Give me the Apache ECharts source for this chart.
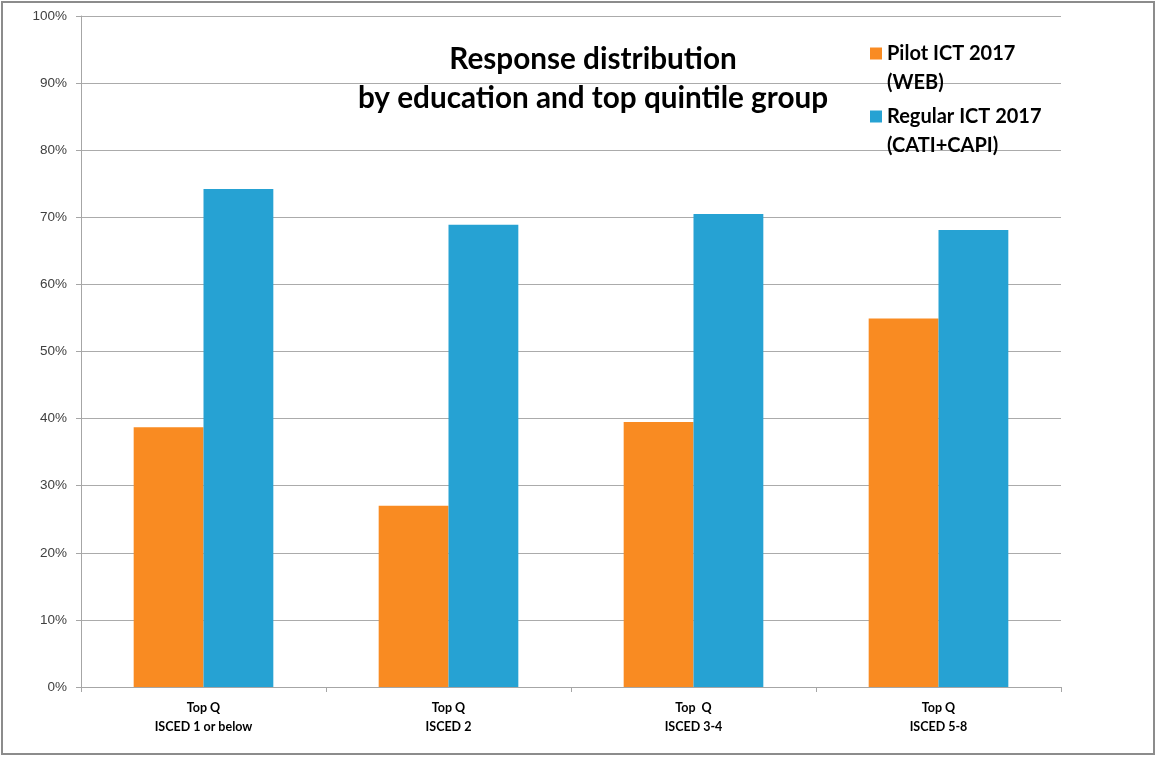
<!DOCTYPE html>
<html>
<head>
<meta charset="utf-8">
<title>Response distribution by education and top quintile group</title>
<script src="https://cdn.jsdelivr.net/npm/echarts@6/dist/echarts.min.js"></script>
<style>
  html, body { margin: 0; padding: 0; background: #ffffff; }
  #frame {
    position: absolute; left: 1px; top: 1px;
    width: 1154px; height: 754px;
    border: 2px solid #8c8c8c; box-sizing: border-box;
  }
  #chart { position: absolute; left: 0; top: 0; width: 1158px; height: 758px; }
</style>
</head>
<body>
<div id="chart"></div>
<div id="frame"></div>
<script>
// Education groups (top income quintile)
const categories = [
  'Top Q\nISCED 1 or below',
  'Top Q\nISCED 2',
  'Top  Q\nISCED 3-4',
  'Top Q\nISCED 5-8'
];
// Share of responses, percent
const pilotWeb = [38.7, 27.0, 39.5, 54.9];
const regularCatiCapi = [74.2, 68.9, 70.5, 68.1];
const seriesNames = ['Pilot ICT 2017\n(WEB)', 'Regular ICT 2017\n(CATI+CAPI)'];
const yTicks = { min: 0, max: 100, interval: 10 };

const chart = echarts.init(document.getElementById('chart'), null, { renderer: 'canvas' });

// Two-line legend labels; a leading empty line keeps the swatch beside the first line
const legendText = {
  fontFamily: 'Lato, "Open Sans", sans-serif',
  fontWeight: 'bold',
  fontSize: 20,
  color: '#000',
  lineHeight: 29
};
const legendBase = {
  left: 870, padding: 0, itemWidth: 12, itemHeight: 12, itemGap: 0,
  icon: 'rect', textStyle: legendText,
  formatter: name => '\n' + name
};

chart.setOption({
  animation: false,
  backgroundColor: '#ffffff',
  title: {
    text: 'Response distribution\nby education and top quintile group',
    left: 588,
    top: 35,
    textAlign: 'center',
    textStyle: {
      fontFamily: 'Lato, "Open Sans", sans-serif',
      fontWeight: 'bold',
      fontSize: 29.7,
      lineHeight: 39,
      color: '#000'
    }
  },
  legend: [
    Object.assign({ data: [seriesNames[0]], top: 10 }, legendBase),
    Object.assign({ data: [seriesNames[1]], top: 73 }, legendBase)
  ],
  grid: { left: 81, right: 97, top: 16, bottom: 71, containLabel: false },
  xAxis: {
    type: 'category',
    data: categories,
    axisLine: { lineStyle: { color: '#a6a6a6', width: 1 } },
    axisTick: { show: true, length: 5, alignWithLabel: false, lineStyle: { color: '#a6a6a6' } },
    axisLabel: {
      margin: 11,
      fontFamily: 'Lato, "Open Sans", sans-serif',
      fontWeight: 'bold',
      fontSize: 12.5,
      lineHeight: 19.5,
      color: '#000'
    }
  },
  yAxis: {
    type: 'value',
    min: yTicks.min, max: yTicks.max, interval: yTicks.interval,
    axisLine: { show: true, lineStyle: { color: '#a6a6a6', width: 1 } },
    axisTick: { show: true, length: 5, inside: false, lineStyle: { color: '#a6a6a6' } },
    splitLine: { show: true, lineStyle: { color: '#ababab', width: 1 } },
    axisLabel: {
      margin: 14,
      formatter: '{value}%',
      fontFamily: '"Liberation Sans", Arial, sans-serif',
      fontSize: 13.5,
      color: '#404040'
    }
  },
  series: [
    {
      name: seriesNames[0], type: 'bar', data: pilotWeb,
      itemStyle: { color: '#f98b22' },
      barGap: '0%', barCategoryGap: '43%'
    },
    {
      name: seriesNames[1], type: 'bar', data: regularCatiCapi,
      itemStyle: { color: '#26a2d3' },
      barGap: '0%', barCategoryGap: '43%'
    }
  ]
});
</script>
</body>
</html>
